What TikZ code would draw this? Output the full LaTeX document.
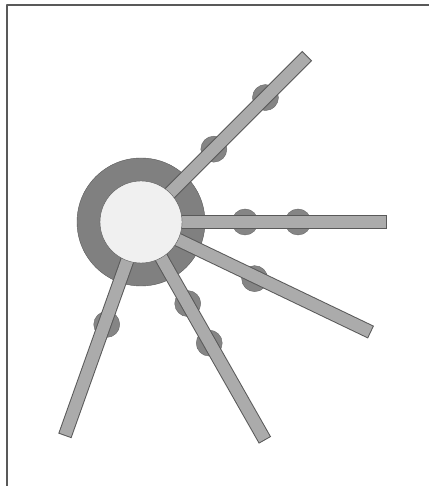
\documentclass[tikz,border=0pt]{standalone}
\usepackage{tikz}
\usetikzlibrary{positioning, calc}

\begin{document}
\begin{tikzpicture}[x=1pt, y=1pt, line join=round,
    anneau/.style={circle, draw=black!65, fill=black!50, minimum size=128pt, inner sep=0pt},
    moyeu/.style={circle, draw=black!65, fill=black!6, minimum size=82pt, inner sep=0pt},
    bouton/.style={circle, draw=black!60, fill=black!48, minimum size=26pt, inner sep=0pt},
    rayon/.style={line width=1pt, draw=black!65, double=black!33, double distance=12pt, line cap=rect}]
  \useasboundingbox (-141,-264) rectangle (288,222);

  % cadre
  \draw[line width=1.5pt, black!65] (-134,-264) -- (-134,217) -- (288,217);

  \coordinate (C) at (0,0);
  \node[anneau] (A) at (C) {};

  \coordinate (R1) at (45:228);
  \coordinate (R2) at (0:239);
  \coordinate (R3) at (-25.6:248);
  \coordinate (R4) at (-60.4:244);
  \coordinate (R5) at (-109.6:220);

  \node[bouton] (B1) at (45:103) {};
  \node[bouton] (B2) at (45:176) {};
  \node[bouton] (B3) at (0:104) {};
  \node[bouton] (B4) at (0:157) {};
  \node[bouton] (B5) at (-26.5:127) {};
  \node[bouton] (B6) at (-60.2:94) {};
  \node[bouton] (B7) at (-60.6:139) {};
  \node[bouton] (B8) at (-108.5:108) {};

  \draw[rayon] (C) -- (R1);
  \draw[rayon] (C) -- (R2);
  \draw[rayon] (C) -- (R3);
  \draw[rayon] (C) -- (R4);
  \draw[rayon] (C) -- (R5);

  \node[moyeu] (M) at (C) {};
\end{tikzpicture}
\end{document}
